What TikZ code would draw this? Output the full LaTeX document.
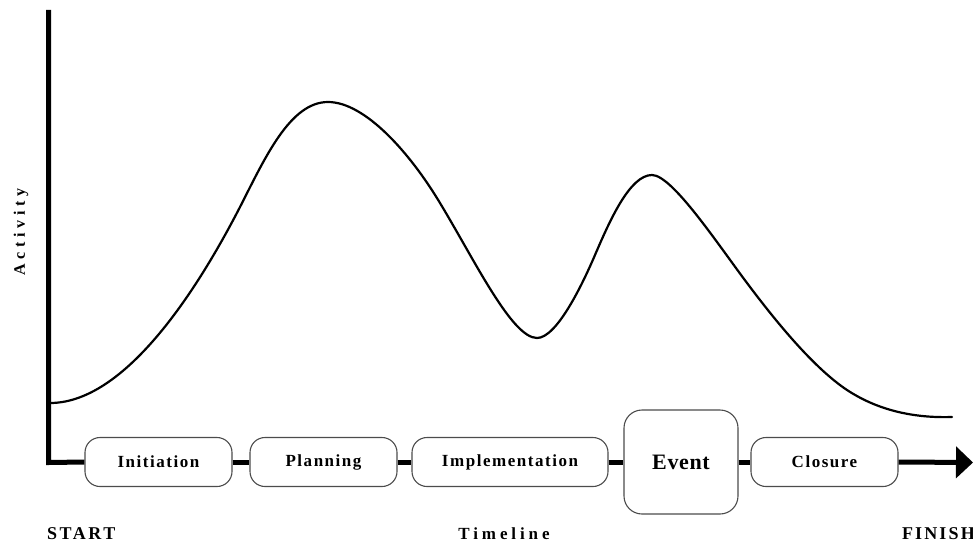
\documentclass[tikz,border=0pt]{standalone}
\usepackage{fontspec}
\setmainfont{Liberation Serif}
\usetikzlibrary{arrows.meta}
\newfontfamily\boxfont[LetterSpace=9]{Liberation Serif Bold}
\newfontfamily\eventfont[LetterSpace=3]{Liberation Serif Bold}
\newfontfamily\startfont[LetterSpace=14]{Liberation Serif Bold}
\newfontfamily\finishfont[LetterSpace=12]{Liberation Serif Bold}
\newfontfamily\timefont[LetterSpace=23]{Liberation Serif Bold}
\newfontfamily\actfont[LetterSpace=29]{Liberation Serif Bold}
\begin{document}
\begin{tikzpicture}[x=1pt,y=-1pt,
  axisline/.style={line width=5pt},
  phase/.style={draw=black!70, line width=1.1pt, fill=white, rounded corners=15pt,
    minimum height=49pt, inner sep=0pt, font=\boxfont\fontsize{17}{19}\selectfont},
  bigphase/.style={phase, rounded corners=18pt, minimum height=104pt,
    font=\eventfont\fontsize{22}{25}\selectfont},
  activity/.style={line width=2.2pt, line cap=round, line join=round}]
\useasboundingbox (0,0) rectangle (973,543);

% axes
\coordinate (top) at (48.5,10);
\coordinate (origin) at (48.5,462.5);
\coordinate (tip) at (973,462.5);

% phase boxes along the timeline
\node[phase, minimum width=147pt] (init) at (158.5,462) {Initiation};
\node[phase, minimum width=147pt] (plan) at (323.5,462) {Planning};
\node[phase, minimum width=196pt] (impl) at (510,462) {Implementation};
\node[bigphase, minimum width=114pt] (event) at (681,462) {Event};
\node[phase, minimum width=147pt] (close) at (824.5,462) {Closure};

\draw[axisline] (top) -- (origin) -- (init.west);
\draw[axisline] (init.east) -- (plan.west);
\draw[axisline] (plan.east) -- (impl.west);
\draw[axisline] (impl.east) -- (event.west);
\draw[axisline] (event.east) -- (close.west);
\draw[axisline, -{Triangle[length=17pt,width=31pt]}] (close.east) -- (tip);

% activity curve: two peaks, the second one during the event
\draw[activity] (50,403)
  .. controls (130,403) and (205,275) .. (240,207)
  .. controls (265,158) and (290,102) .. (328,102)
  .. controls (365,102) and (410,153) .. (440,203)
  .. controls (475,261) and (512,338) .. (537,338)
  .. controls (557,338) and (583,283) .. (595,255)
  .. controls (610,220) and (630,175) .. (652,175)
  .. controls (672,175) and (717,243) .. (747,283)
  .. controls (777,323) and (814,368) .. (847,390)
  .. controls (882,413) and (920,418) .. (952,417);

% labels
\node[font=\startfont\fontsize{18}{21}\selectfont, inner sep=0pt, anchor=base west] (start) at (47,539) {START};
\node[font=\timefont\fontsize{17}{20}\selectfont, inner sep=0pt, anchor=base] (timeline) at (504,539) {Timeline};
\node[font=\finishfont\fontsize{18}{21}\selectfont, inner sep=0pt, anchor=base east] (finish) at (975,539) {FINISH};
\node[font=\actfont\fontsize{16}{19}\selectfont, inner sep=0pt, rotate=90] (act) at (21,232) {Activity};
\end{tikzpicture}
\end{document}
